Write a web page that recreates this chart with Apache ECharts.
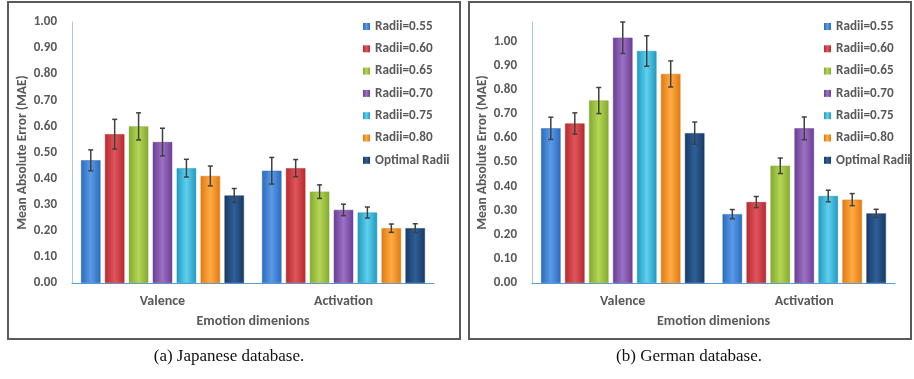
<!DOCTYPE html>
<html><head><meta charset="utf-8">
<script src="https://cdn.jsdelivr.net/npm/echarts@6/dist/echarts.min.js"></script>
<style>html,body{margin:0;padding:0;background:#fff}#c{width:914px;height:379px}</style>
</head><body><div id="c"></div>
<script>
const categories = ['Valence', 'Activation'];
const seriesNames = ['Radii=0.55','Radii=0.60','Radii=0.65','Radii=0.70','Radii=0.75','Radii=0.80','Optimal Radii'];
// Japanese database: [Valence, Activation]
const jpValues = [
  [0.47, 0.43],
  [0.57, 0.44],
  [0.60, 0.35],
  [0.54, 0.28],
  [0.44, 0.27],
  [0.41, 0.21],
  [0.335, 0.21]
];
const jpErrors = [
  [0.040, 0.051],
  [0.057, 0.033],
  [0.052, 0.026],
  [0.053, 0.022],
  [0.034, 0.021],
  [0.038, 0.016],
  [0.027, 0.017]
];
// German database
const deValues = [
  [0.64, 0.285],
  [0.66, 0.335],
  [0.755, 0.485],
  [1.015, 0.64],
  [0.96, 0.36],
  [0.865, 0.345],
  [0.62, 0.288]
];
const deErrors = [
  [0.046, 0.019],
  [0.044, 0.023],
  [0.054, 0.032],
  [0.065, 0.047],
  [0.063, 0.024],
  [0.054, 0.025],
  [0.046, 0.017]
];
const jpTicks = {min: 0, max: 1.0, interval: 0.1};
const deTicks = {min: 0, max: 1.08, interval: 0.1};
const captions = ['(a) Japanese database.', '(b) German database.'];

const colors = [
  ['#2a6bbf','#5a9ae6'],
  ['#b42a2f','#e0555a'],
  ['#82a92e','#b5d656'],
  ['#6a3f93','#9c70c4'],
  ['#2199be','#5fd0ee'],
  ['#e07a10','#ffab45'],
  ['#173a66','#2f5f98']
];
function grad(c){
  return new echarts.graphic.LinearGradient(0,0,1,0,[
    {offset:0,color:c[0]},{offset:0.5,color:c[1]},{offset:1,color:c[0]}
  ]);
}
const BCG = 0.10, BG = 0.23, N = seriesNames.length;
const labelFont = {color:'#595959', fontFamily:'Carlito, Lato, "Open Sans", sans-serif', fontWeight:'bold', fontSize:13};

function errSeries(gi, vals, errs){
  const data = [];
  for (let s=0;s<N;s++) for (let c=0;c<categories.length;c++)
    data.push([c, s, vals[s][c]-errs[s][c], vals[s][c]+errs[s][c]]);
  return {
    type:'custom', xAxisIndex:gi, yAxisIndex:gi, z:10, silent:true,
    data: data,
    encode:{x:0, y:[2,3]},
    renderItem: function(params, api){
      const c = api.value(0), s = api.value(1);
      const band = api.size([1,0])[0];
      const rem = band*(1-BCG);
      const bw = rem/(N+(N-1)*BG);
      const total = N*bw + (N-1)*bw*BG;
      const center = api.coord([c,0])[0];
      const x = center - total/2 + s*bw*(1+BG) + bw/2;
      const lo = api.coord([c, api.value(2)])[1];
      const hi = api.coord([c, api.value(3)])[1];
      const hw = 2.5;
      const st = {stroke:'#404040', lineWidth:1.5};
      return {type:'group', children:[
        {type:'line', shape:{x1:x,y1:lo,x2:x,y2:hi}, style:st},
        {type:'line', shape:{x1:x-hw,y1:lo,x2:x+hw,y2:lo}, style:st},
        {type:'line', shape:{x1:x-hw,y1:hi,x2:x+hw,y2:hi}, style:st}
      ]};
    }
  };
}

const series = [];
[[jpValues,jpErrors],[deValues,deErrors]].forEach(function(d,gi){
  for (let s=0;s<N;s++){
    series.push({
      name: seriesNames[s], type:'bar', xAxisIndex:gi, yAxisIndex:gi,
      barCategoryGap: (BCG*100)+'%', barGap: (BG*100)+'%',
      itemStyle:{color: grad(colors[s]), borderColor: colors[s][0], borderWidth:0.5},
      data: d[0][s]
    });
  }
  series.push(errSeries(gi, d[0], d[1]));
});

const grids = [
  {left:72, top:22, width:362, height:261},
  {left:532, top:22, width:363, height:261}
];
function xAx(gi){
  return {type:'category', gridIndex:gi, data:categories,
    axisLine:{lineStyle:{color:'#5b9bd5', width:1.2}}, axisTick:{show:false},
    axisLabel:Object.assign({}, labelFont, {margin:11, fontSize:14}),
    name:'Emotion dimenions', nameLocation:'middle', nameGap:31,
    nameTextStyle:Object.assign({}, labelFont, {fontSize:14})};
}
function yAx(gi, t){
  return {type:'value', gridIndex:gi, min:t.min, max:t.max, interval:t.interval,
    splitLine:{show:false}, axisTick:{show:false},
    axisLine:{show:true, lineStyle:{color:'#a9c9dc', width:1}},
    axisLabel:Object.assign({}, labelFont, {margin:15, showMaxLabel: t.max===1.0, formatter:function(v){return v.toFixed(2);}}),
    name:'Mean Absolute Error (MAE)', nameLocation:'middle', nameGap:42, nameRotate:90,
    nameTextStyle:Object.assign({}, labelFont, {fontSize:13.5})};
}
function legend(left){
  return {orient:'vertical', left:left, top:15, itemWidth:7, itemHeight:7, itemGap:9.3,
    icon:'rect', data:seriesNames, textStyle:Object.assign({}, labelFont, {fontSize:13.2}),
    itemStyle:{borderWidth:0}};
}

const option = {
  animation:false,
  legend:[legend(358), legend(819)],
  grid:grids,
  xAxis:[xAx(0), xAx(1)],
  yAxis:[yAx(0,jpTicks), yAx(1,deTicks)],
  series:series,
  graphic:[
    {type:'rect', shape:{x:8,y:2,width:452,height:337}, style:{fill:'none', stroke:'#5a5a5a', lineWidth:2}, silent:true, z:-1},
    {type:'rect', shape:{x:469,y:2,width:442,height:337}, style:{fill:'none', stroke:'#5a5a5a', lineWidth:2}, silent:true, z:-1},
    {type:'text', style:{x:229, y:357, text:captions[0], font:'17px "Liberation Serif", "DejaVu Serif", serif', fill:'#111', textAlign:'center', textVerticalAlign:'middle'}},
    {type:'text', style:{x:689, y:357, text:captions[1], font:'17px "Liberation Serif", "DejaVu Serif", serif', fill:'#111', textAlign:'center', textVerticalAlign:'middle'}}
  ]
};
const chart = echarts.init(document.getElementById('c'), null, {renderer:'canvas'});
chart.setOption(option);
</script></body></html>
